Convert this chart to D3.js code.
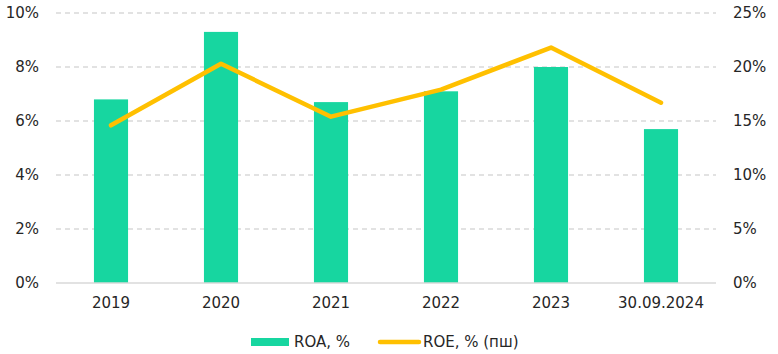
<!DOCTYPE html>
<html lang="ru">
<head>
<meta charset="utf-8">
<title>ROA / ROE</title>
<script src="https://cdnjs.cloudflare.com/ajax/libs/d3/7.8.5/d3.min.js"></script>
<style>
  body { margin: 0; background: #fff; }
  svg { font-family: Verdana, "DejaVu Sans", sans-serif; font-size: 15px; fill: #262626; }
  .grid line { stroke: #d9d9d9; stroke-dasharray: 5 4; }
</style>
</head>
<body>
<div id="chart"></div>
<script>
// chart data
var categories = ["2019", "2020", "2021", "2022", "2023", "30.09.2024"];
var roa = [6.8, 9.3, 6.7, 7.1, 8.0, 5.7];
var roe = [14.6, 20.3, 15.4, 17.9, 21.8, 16.7];
var leftTicks = [0, 2, 4, 6, 8, 10];
var rightTicks = [0, 5, 10, 15, 20, 25];

var w = 778, h = 354;
var plotLeft = 56, plotRight = 716, plotTop = 13, plotBottom = 283;

var svg = d3.select("#chart").append("svg")
    .attr("width", w)
    .attr("height", h);

var x = d3.scaleBand().domain(categories).range([plotLeft, plotRight]).paddingInner(0.69).paddingOuter(0.345);
var xc = d3.scalePoint().domain(categories).range([plotLeft, plotRight]).padding(0.5);
var yL = d3.scaleLinear().domain([0, 10]).range([plotBottom, plotTop]);
var yR = d3.scaleLinear().domain([0, 25]).range([plotBottom, plotTop]);

// dashed gridlines
svg.append("g").attr("class", "grid")
    .selectAll("line").data(leftTicks.slice(1)).join("line")
    .attr("x1", plotLeft).attr("x2", plotRight)
    .attr("y1", d => yL(d)).attr("y2", d => yL(d))
    .attr("stroke-width", 1.5);

// bars
svg.append("g").selectAll("rect").data(roa).join("rect")
    .attr("x", (d, i) => x(categories[i]))
    .attr("width", x.bandwidth())
    .attr("y", d => yL(d))
    .attr("height", d => plotBottom - yL(d))
    .attr("fill", "#17d6a0");

// baseline
svg.append("line")
    .attr("x1", plotLeft).attr("x2", plotRight)
    .attr("y1", plotBottom).attr("y2", plotBottom)
    .attr("stroke", "#d9d9d9").attr("stroke-width", 1.5);

// ROE line
var line = d3.line()
    .x((d, i) => xc(categories[i]))
    .y(d => yR(d));

svg.append("path")
    .attr("d", line(roe))
    .attr("fill", "none")
    .attr("stroke", "#ffc000")
    .attr("stroke-width", 4.5)
    .attr("stroke-linecap", "round")
    .attr("stroke-linejoin", "round");

// axes labels
svg.append("g").selectAll("text").data(leftTicks).join("text")
    .attr("x", 39).attr("y", d => yL(d) + 5)
    .attr("text-anchor", "end")
    .text(d => d + "%");

svg.append("g").selectAll("text").data(rightTicks).join("text")
    .attr("x", 733).attr("y", d => yR(d) + 5)
    .attr("text-anchor", "start")
    .text(d => d + "%");

svg.append("g").selectAll("text").data(categories).join("text")
    .attr("x", d => xc(d)).attr("y", 308)
    .attr("text-anchor", "middle")
    .text(d => d);

// legend
var lg = svg.append("g");
lg.append("rect").attr("x", 251).attr("y", 338).attr("width", 38).attr("height", 8).attr("fill", "#17d6a0");
lg.append("text").attr("x", 294).attr("y", 347).text("ROA, %");
lg.append("line").attr("x1", 380).attr("x2", 419).attr("y1", 342).attr("y2", 342)
    .attr("stroke", "#ffc000").attr("stroke-width", 4.5).attr("stroke-linecap", "round");
lg.append("text").attr("x", 423).attr("y", 347).text("ROE, % (пш)");
</script>
</body>
</html>
